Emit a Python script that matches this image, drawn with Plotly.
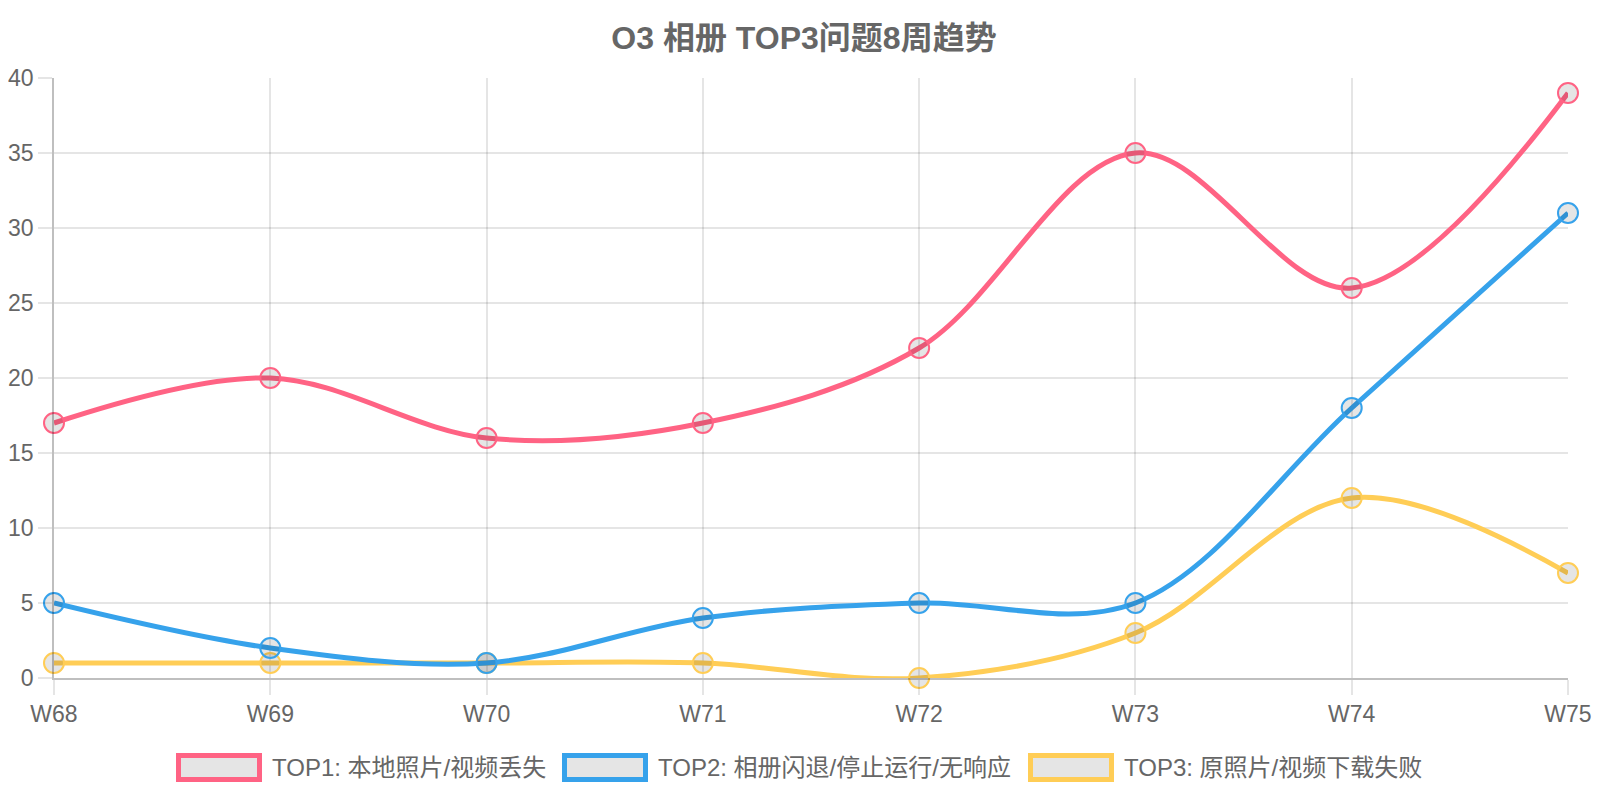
import plotly.graph_objects as go

# data
weeks = ["W68", "W69", "W70", "W71", "W72", "W73", "W74", "W75"]
top1 = [17, 20, 16, 17, 22, 35, 26, 39]
top2 = [5, 2, 1, 4, 5, 5, 18, 31]
top3 = [1, 1, 1, 1, 0, 3, 12, 7]
names = ["TOP1: 本地照片/视频丢失", "TOP2: 相册闪退/停止运行/无响应", "TOP3: 原照片/视频下载失败"]
colors = ["rgb(255,99,132)", "rgb(54,162,235)", "rgb(255,205,86)"]
title = "O3 相册 TOP3问题8周趋势"

# the page body adds an 8px margin, so the figure is laid out 8px smaller
OFF = 8
W, H = 1600 - OFF, 800 - OFF
L, T = 54 - OFF, 78 - OFF
R, B = W - (1568 - OFF), H - (678 - OFF)
FONT = "Liberation Sans, Arial, Noto Sans CJK SC, sans-serif"
GREY = "#666666"


def px(x):
    # screen pixel -> paper x
    return (x - OFF - L) / (W - L - R)


def py(y):
    # screen pixel -> paper y
    return (H - B - (y - OFF)) / (H - T - B)


fig = go.Figure()

# chart.js draws the first dataset on top, so add them in reverse
series = [top1, top2, top3]
for vals, name, col in reversed(list(zip(series, names, colors))):
    fig.add_trace(go.Scatter(
        x=weeks, y=vals, name=name, mode="lines+markers",
        line=dict(color=col, width=5, shape="spline", smoothing=1.0),
        marker=dict(size=20, color="rgba(0,0,0,0.1)", line=dict(color=col, width=2)),
        cliponaxis=False, showlegend=False,
    ))

# hand-made legend boxes like chart.js
box_left = [176, 562, 1028]
box_w, box_h, box_top = 86, 29, 753
shapes, annos = [], []
for bx, name, col in zip(box_left, names, colors):
    shapes.append(dict(
        type="rect", xref="paper", yref="paper",
        x0=px(bx + 2.5), x1=px(bx + box_w - 2.5),
        y0=py(box_top + box_h - 2.5), y1=py(box_top + 2.5),
        fillcolor="rgba(0,0,0,0.1)", line=dict(color=col, width=5),
    ))
    annos.append(dict(
        text=name, xref="paper", yref="paper",
        x=px(bx + box_w + 8), y=py(box_top + box_h / 2),
        xanchor="left", yanchor="middle", showarrow=False,
        font=dict(size=24, color=GREY, family=FONT),
    ))

fig.update_layout(
    width=W, height=H,
    margin=dict(l=L, r=R, t=T, b=B, autoexpand=False),
    paper_bgcolor="white", plot_bgcolor="white",
    font=dict(family=FONT, size=23, color=GREY),
    title=dict(text="<b>" + title + "</b>", x=0.5, xanchor="center",
               y=1 - (38 - OFF) / H, yanchor="middle",
               font=dict(size=32, color=GREY, family=FONT)),
    shapes=shapes, annotations=annos,
    showlegend=False,
)

fig.update_xaxes(
    type="category", range=[0, 7], automargin=False,
    showgrid=True, gridcolor="rgba(0,0,0,0.1)", gridwidth=1.5,
    showline=True, linecolor="rgba(0,0,0,0.25)", linewidth=1.5,
    ticks="outside", ticklen=15, tickcolor="rgba(0,0,0,0.1)", tickwidth=1.5,
    tickfont=dict(size=23, color=GREY),
)
fig.update_yaxes(
    range=[0, 40], dtick=5, automargin=False,
    showgrid=True, gridcolor="rgba(0,0,0,0.1)", gridwidth=1.5,
    zeroline=False,
    showline=True, linecolor="rgba(0,0,0,0.25)", linewidth=1.5,
    ticks="outside", ticklen=14, tickcolor="rgba(0,0,0,0.1)", tickwidth=1.5,
    tickfont=dict(size=23, color=GREY),
)

fig.write_html("out.html")
